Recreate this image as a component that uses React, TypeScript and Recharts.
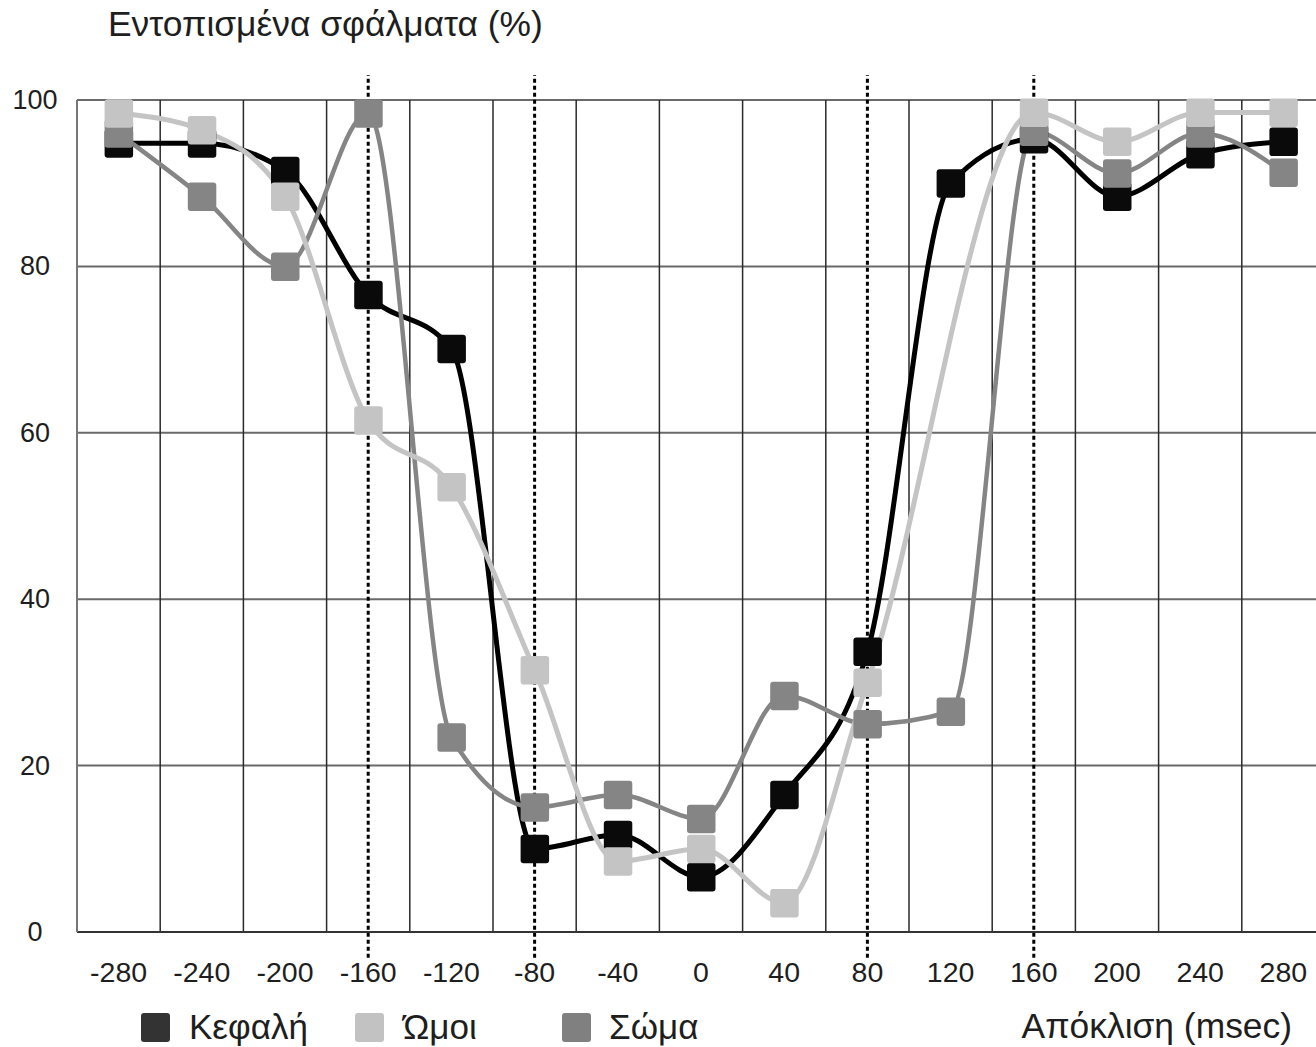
import React from 'react';
import { LineChart, Line, XAxis, YAxis, CartesianGrid, ReferenceLine, Legend } from 'recharts';

// ---- data ----
const xValues = [-280, -240, -200, -160, -120, -80, -40, 0, 40, 80, 120, 160, 200, 240, 280];
const headValues = [94.8, 94.8, 91.5, 76.6, 70.1, 10.0, 11.7, 6.6, 16.5, 33.7, 90.0, 95.3, 88.4, 93.5, 95.0];
const shoulderValues: (number | null)[] = [98.4, 96.4, 88.4, 61.5, 53.5, 31.5, 8.5, 10.0, 3.5, 30.0, null, 98.5, 95.0, 98.5, 98.5];
const bodyValues = [96.0, 88.4, 80.0, 98.4, 23.4, 15.0, 16.5, 13.6, 28.4, 25.0, 26.5, 96.2, 91.2, 96.0, 91.3];

const xTicks = [-280, -240, -200, -160, -120, -80, -40, 0, 40, 80, 120, 160, 200, 240, 280];
const yTicks = [0, 20, 40, 60, 80, 100];
const gridXValues = [-260, -220, -180, -140, -100, -60, -20, 20, 60, 100, 140, 180, 220, 260];
const markerXValues = [-160, -80, 80, 160];
const seriesNames = ['Κεφαλή', 'Ώμοι', 'Σώμα'];
const yTitle = 'Εντοπισμένα σφάλματα (%)';
const xTitle = 'Απόκλιση (msec)';

const data = xValues.map((x, i) => ({
  x,
  head: headValues[i],
  shoulders: shoulderValues[i],
  body: bodyValues[i],
}));

// ---- styles ----
const FONT = "'Liberation Sans', Arial, Helvetica, sans-serif";
const TEXT = '#1e1e1e';
const HEAD = '#000000';
const SHOULDERS = '#c4c4c4';
const BODY = '#858585';
const LEGEND_COLORS = ['#333333', '#c2c2c2', '#808080'];

const makeSquare = (fill: string) => (props: any) => {
  const { cx, cy, index, value } = props;
  if (cx == null || cy == null || value == null || Number.isNaN(cy)) {
    return <g key={`empty-${index}`} />;
  }
  return <rect key={`sq-${index}`} x={cx - 14} y={cy - 14} width={28.5} height={28.5} rx={3} ry={3} fill={fill} />;
};

const XTick = (props: any) => {
  const { x, y, payload } = props;
  return (
    <text x={x} y={y + 50} textAnchor="middle" fontSize={28.5} fontFamily={FONT} fill={TEXT}>
      {payload.value}
    </text>
  );
};

const YTick = (props: any) => {
  const { x, y, payload } = props;
  return (
    <text x={x - 42} y={y + 9} textAnchor="middle" fontSize={27} fontFamily={FONT} fill={TEXT}>
      {payload.value}
    </text>
  );
};

const legendSquareX = [141, 355, 562];
const legendTextX = [189, 403, 609];

const renderLegend = () => (
  <svg width={1316} height={47} style={{ display: 'block' }}>
    {seriesNames.map((name, i) => (
      <g key={name}>
        <rect x={legendSquareX[i]} y={13} width={29} height={29} rx={3} ry={3} fill={LEGEND_COLORS[i]} />
        <text x={legendTextX[i]} y={39} fontSize={35} fontFamily={FONT} fill={TEXT}>
          {name}
        </text>
      </g>
    ))}
  </svg>
);

export default function App() {
  return (
    <div style={{ position: 'absolute', left: 0, top: 0, width: 1316, height: 1047, overflow: 'hidden', background: '#fff' }}>
      <LineChart
        width={1316}
        height={1047}
        data={data}
        margin={{ top: 100, right: -9, bottom: 0, left: 0 }}
      >
        <CartesianGrid horizontal vertical={false} stroke="#6a6a6a" strokeWidth={2} />
        {gridXValues.map((v) => (
          <ReferenceLine key={`g${v}`} x={v} stroke="#2a2a2a" strokeWidth={1.5} />
        ))}
        <XAxis
          type="number"
          dataKey="x"
          domain={[-300, 300]}
          ticks={xTicks}
          interval={0}
          tickSize={0}
          tickMargin={0}
          tickLine={false}
          axisLine={{ stroke: '#333', strokeWidth: 2 }}
          tick={<XTick />}
          height={115}
        />
        <YAxis
          type="number"
          domain={[0, 100]}
          ticks={yTicks}
          interval={0}
          width={77}
          tickSize={0}
          tickMargin={0}
          tickLine={false}
          axisLine={{ stroke: '#777', strokeWidth: 2 }}
          tick={<YTick />}
        />
        <Line
          type="monotone"
          dataKey="head"
          name={seriesNames[0]}
          stroke={HEAD}
          strokeWidth={5}
          dot={makeSquare('#0a0a0a')}
          activeDot={false}
          isAnimationActive={false}
        />
        <Line
          type="monotone"
          dataKey="body"
          name={seriesNames[2]}
          stroke={BODY}
          strokeWidth={4.5}
          dot={makeSquare(BODY)}
          activeDot={false}
          isAnimationActive={false}
        />
        <Line
          type="monotone"
          dataKey="shoulders"
          name={seriesNames[1]}
          stroke={SHOULDERS}
          strokeWidth={5}
          connectNulls
          dot={makeSquare(SHOULDERS)}
          activeDot={false}
          isAnimationActive={false}
        />
        {markerXValues.map((v) => (
          <ReferenceLine
            key={`m${v}`}
            segment={[{ x: v, y: -3.1 }, { x: v, y: 103 }]}
            ifOverflow="visible"
            stroke="#000"
            strokeWidth={3}
            strokeDasharray="4 3"
          />
        ))}
        <Legend
          layout="horizontal"
          verticalAlign="middle"
          align="center"
          wrapperStyle={{ position: 'absolute', left: 0, top: 1000, width: 1316, height: 47 }}
          content={renderLegend}
        />
      </LineChart>
      <svg
        width={1316}
        height={1047}
        style={{ position: 'absolute', left: 0, top: 0, pointerEvents: 'none' }}
      >
        <text x={108} y={36} fontSize={35.4} fontFamily={FONT} fill={TEXT}>
          {yTitle}
        </text>
        <text x={1292} y={1038} textAnchor="end" fontSize={35.4} fontFamily={FONT} fill={TEXT}>
          {xTitle}
        </text>
      </svg>
    </div>
  );
}
